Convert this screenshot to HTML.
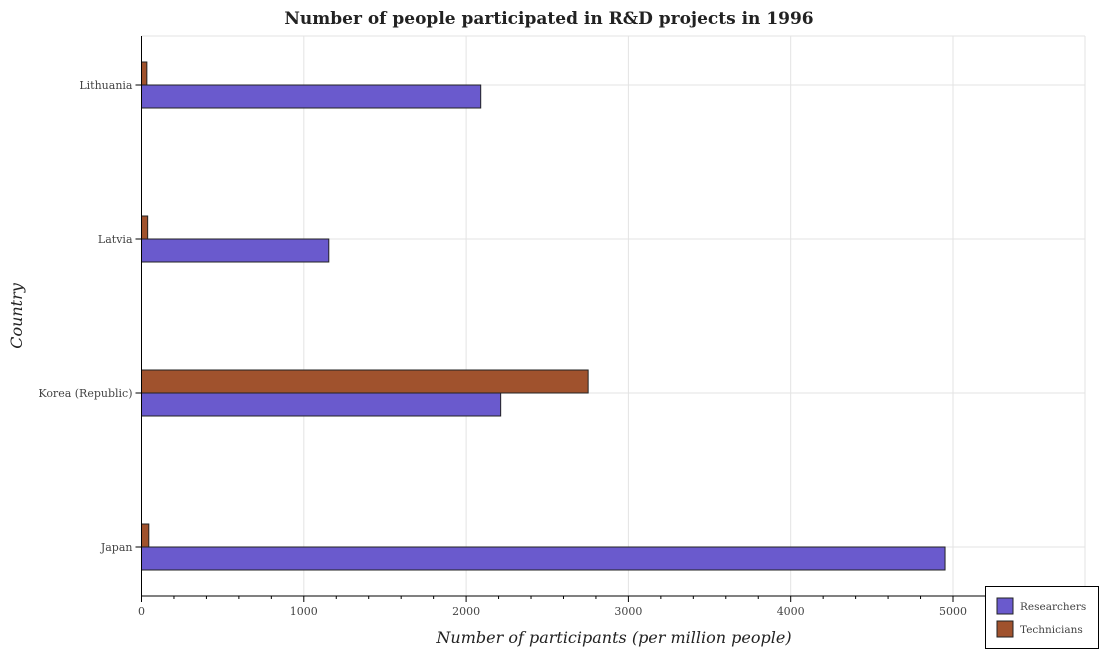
<!DOCTYPE html>
<html><head><meta charset="utf-8"><style>
body{margin:0;background:#fff;}
svg text{font-family:"DejaVu Serif","Liberation Serif",serif;}
</style></head><body>
<svg id="chart" width="1099" height="650" xmlns="http://www.w3.org/2000/svg">
<text x="549" y="24" text-anchor="middle" font-size="17" font-weight="bold" fill="#222">Number of people participated in R&amp;D projects in 1996</text>
<g id="grid"></g><g id="bars"></g><g id="axes"></g>
<text x="614" y="643" text-anchor="middle" font-size="16" font-style="italic" fill="#222">Number of participants (per million people)</text>
<text transform="translate(22,316) rotate(-90)" text-anchor="middle" font-size="16" font-style="italic" fill="#222">Country</text>
<g>
<rect x="985.5" y="586.5" width="113" height="62" fill="#fff" stroke="#000" stroke-width="1"/>
<rect x="997" y="598" width="16" height="16" fill="#6a5acd" stroke="#222"/>
<text x="1020" y="610" font-size="10.5" fill="#444">Researchers</text>
<rect x="997" y="621" width="16" height="16" fill="#a0522d" stroke="#222"/>
<text x="1020" y="633" font-size="10.5" fill="#444">Technicians</text>
</g>
</svg>
<script>
const categories=["Japan","Korea (Republic)","Latvia","Lithuania"];
const researchers=[4951,2213,1154,2090];
const technicians=[45,2752,38,33];
const xTicks=[0,1000,2000,3000,4000,5000];
const NS="http://www.w3.org/2000/svg";
const L=141.5,R=1085,T=36,B=596,PX=0.1623;
const x=v=>L+v*PX;
const y=i=>547-i*154;
function mk(tag,attrs,parent,txt){const e=document.createElementNS(NS,tag);for(const k in attrs)e.setAttribute(k,attrs[k]);if(txt!=null)e.textContent=txt;parent.appendChild(e);return e;}
const g=document.getElementById('grid'),b=document.getElementById('bars'),a=document.getElementById('axes');
xTicks.forEach(t=>{const l=mk('line',{x1:x(t),x2:x(t),y1:T,y2:B,stroke:'#e3e3e3'},g);

});
categories.forEach((c,i)=>{const l=mk('line',{x1:L,x2:R,y1:y(i),y2:y(i),stroke:'#e3e3e3'},g);

});
mk('line',{x1:R,x2:R,y1:T,y2:B,stroke:'#e3e3e3'},g);
mk('line',{x1:L,x2:R,y1:T,y2:T,stroke:'#e3e3e3'},g);
categories.forEach((c,i)=>{
const r=mk('rect',{x:L,y:y(i),width:researchers[i]*PX,height:23,fill:'#6a5acd',stroke:'#222','stroke-width':1},b);


const t=mk('rect',{x:L,y:y(i)-23,width:technicians[i]*PX,height:23,fill:'#a0522d',stroke:'#222','stroke-width':1},b);


mk('line',{x1:L-6,x2:L,y1:y(i),y2:y(i),stroke:'#000'},a);
const lb=mk('text',{x:L-9,y:y(i)+4,'text-anchor':'end','font-size':11,fill:'#444'},a,c);


});
mk('line',{x1:L,x2:L,y1:T,y2:B,stroke:'#000'},a);
mk('line',{x1:L,x2:R,y1:B,y2:B,stroke:'#000'},a);
for(let v=0;x(v)<=R;v+=200){mk('line',{x1:x(v),x2:x(v),y1:B,y2:B+(v%1000===0?6:3),stroke:'#000'},a);}
xTicks.forEach(t=>{const lb=mk('text',{x:x(t),y:B+19,'text-anchor':'middle','font-size':11,fill:'#444'},a,String(t));

});
</script>
</body></html>
